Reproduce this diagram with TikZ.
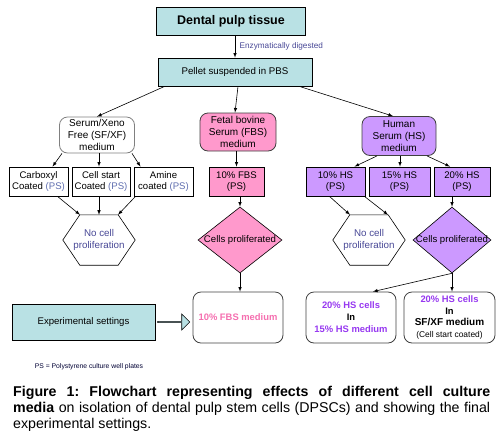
\documentclass[tikz,border=0pt]{standalone}
\usepackage{fontspec}
\setmainfont{Liberation Sans}
\usetikzlibrary{arrows,shapes.geometric,shapes.arrows}

\definecolor{tealc}{RGB}{185,225,228}
\definecolor{pinkc}{RGB}{255,153,204}
\definecolor{purpc}{RGB}{204,153,255}
\definecolor{slatec}{RGB}{72,72,150}
\definecolor{psc}{RGB}{95,110,175}
\definecolor{medpink}{RGB}{245,110,175}
\definecolor{hsc}{RGB}{150,55,240}
\newcommand{\fsz}[2]{\fontsize{#1}{#2}\selectfont}

\tikzset{
  box/.style={draw,line width=0.8pt,align=center,inner sep=0pt},
  tealbox/.style={box,fill=tealc},
  roundbox/.style={box,rounded corners=8pt,draw=black!75},
  smallbox/.style={box,minimum height=29pt,font=\fsz{9.6}{11}},
  hexbox/.style={minimum width=72pt,minimum height=50pt,inner sep=0pt,align=center,
    text=slatec,font=\fsz{9.8}{12.3}},
  dia/.style={draw,line width=0.6pt,diamond,inner sep=0pt,minimum height=66pt},
  arr/.style={-latex,line width=0.6pt},
}

\begin{document}
\begin{tikzpicture}[x=1pt,y=-1pt]
  \useasboundingbox (0,0) rectangle (500,432);

  % top
  \node[tealbox,minimum width=149pt,minimum height=28pt,font=\bfseries\fsz{12.5}{14}] (tissue) at (231,21) {Dental pulp tissue};
  \node[tealbox,minimum width=154pt,minimum height=28pt,font=\fsz{9.7}{11}] (pellet) at (235,72) {Pellet suspended in PBS};
  \draw[arr] (tissue.south -| pellet.north) -- (pellet.north)
    node[midway,right,xshift=1pt,text=slatec,font=\fsz{8.2}{9}] {Enzymatically digested};

  % media
  \node[roundbox,draw=black!50,fill=white,minimum width=75pt,minimum height=36pt,font=\fsz{10}{11.7}] (sfxf) at (97,135) {Serum/Xeno\\Free (SF/XF)\\medium};
  \node[roundbox,fill=pinkc,minimum width=76pt,minimum height=38pt,font=\fsz{10}{11.7}] (fbs) at (238,132) {Fetal bovine\\Serum (FBS)\\medium};
  \node[roundbox,fill=purpc,minimum width=74pt,minimum height=39pt,font=\fsz{10}{11.7}] (hs) at (399,136) {Human\\Serum (HS)\\medium};

  \draw[arr] ([xshift=7pt]pellet.south west) -- (sfxf.north);
  \draw[arr] (pellet.south -| fbs.north) -- (fbs.north -| pellet.south);
  \draw[arr] ([xshift=-13pt]pellet.south east) -- ([xshift=-6pt]hs.north);

  % plates
  \node[smallbox,minimum width=59pt] (carb) at (38.5,181.5) {Carboxyl\\Coated \textcolor{psc}{(PS)}};
  \node[smallbox,minimum width=58pt] (cstart) at (101,181.5) {Cell start\\Coated \textcolor{psc}{(PS)}};
  \node[smallbox,minimum width=59pt] (amine) at (163.5,181.5) {Amine\\coated \textcolor{psc}{(PS)}};
  \node[smallbox,fill=pinkc,minimum width=55pt] (fbs10) at (236.5,181.5) {10\% FBS\\(PS)};
  \node[smallbox,fill=purpc,minimum width=59pt] (hs10) at (335.5,181.5) {10\% HS\\(PS)};
  \node[smallbox,fill=purpc,minimum width=61pt] (hs15) at (399.5,181.5) {15\% HS\\(PS)};
  \node[smallbox,fill=purpc,minimum width=56pt] (hs20) at (462,181.5) {20\% HS\\(PS)};

  \draw[arr] ([xshift=-35pt]sfxf.south) -- ([xshift=14pt]carb.north);
  \draw[arr] ([xshift=2pt]sfxf.south) -- ([xshift=-2pt]cstart.north);
  \draw[arr] ([xshift=35pt]sfxf.south) -- ([xshift=-23pt]amine.north);
  \draw[arr] (fbs.south -| fbs10.north) -- (fbs10.north);
  \draw[arr] ([xshift=-22pt]hs.south) -- ([xshift=19pt]hs10.north);
  \draw[arr] ([xshift=1pt]hs.south) -- ([xshift=0.5pt]hs15.north);
  \draw[arr] ([xshift=28pt]hs.south) -- ([xshift=-12pt]hs20.north);

  % outcomes
  \node[hexbox] (hexA) at (99,240) {No cell\\proliferation};
  \node[hexbox] (hexB) at (369,240) {No cell\\proliferation};
  \foreach \h in {hexA,hexB}
    \draw[line width=0.6pt] (\h.west) -- ([xshift=17pt]\h.north west) -- ([xshift=-17pt]\h.north east)
      -- (\h.east) -- ([xshift=-17pt]\h.south east) -- ([xshift=17pt]\h.south west) -- cycle;
  \node[dia,fill=pinkc,minimum width=84pt] (diaA) at (240,240) {};
  \node[font=\fsz{9.6}{11}] at (diaA) {Cells proliferated};
  \node[dia,fill=purpc,minimum width=78pt] (diaB) at (452,240) {};
  \node[font=\fsz{9.6}{11}] at (diaB) {Cells proliferated};

  \draw[arr] ([xshift=19pt]carb.south) -- ([xshift=-19pt]hexA.north);
  \draw[arr] ([xshift=-2pt]cstart.south) -- (hexA.north);
  \draw[arr] ([xshift=-28pt]amine.south) -- ([xshift=19pt]hexA.north);
  \draw[arr] ([xshift=-6pt]hs10.south) -- ([xshift=-19pt]hexB.north);
  \draw[arr] ([xshift=-35pt]hs15.south) -- ([xshift=19pt]hexB.north);
  \draw[arr] (fbs10.south -| diaA.north) -- (diaA.north);
  \draw[arr] (hs20.south -| diaB.north) -- (diaB.north);

  % final settings
  \node[roundbox,minimum width=90pt,minimum height=51pt,font=\bfseries\fsz{9.4}{12}] (fbsmed) at (238,317.5) {\textcolor{medpink}{10\% FBS medium}};
  \node[roundbox,minimum width=90pt,minimum height=51pt,font=\bfseries\fsz{9.4}{12}] (hsmed) at (351,317.5) {\textcolor{hsc}{20\% HS cells}\\In\\\textcolor{hsc}{15\% HS medium}};
  \node[roundbox,minimum width=91pt,minimum height=51pt,font=\bfseries\fsz{9.4}{11.5}] (sfmed) at (449.5,317.5) {\textcolor{hsc}{20\% HS cells}\\In\\{\fsz{10}{11.5}SF/XF medium}\\{\mdseries\fsz{8.4}{10}(Cell start coated)}};
  \draw[arr] (diaA.south) -- (diaA.south |- fbsmed.north);
  \draw[arr] (diaB.south) -- ([xshift=22pt]hsmed.north);
  \draw[arr] (diaB.south) -- (diaB.south |- sfmed.north);

  \node[tealbox,minimum width=143pt,minimum height=36pt,font=\fsz{9.6}{11}] (expset) at (83.5,322) {Experimental settings};
  \node[single arrow,draw,line width=0.6pt,fill=tealc,minimum height=32pt,minimum width=16pt,
    single arrow head extend=3.5pt,inner sep=0pt,anchor=west] (bigarr) at ([xshift=2pt]expset.east) {};

  % notes
  \node[font=\fsz{6.8}{8},text=black!80!blue] (note) at (89,367) {PS = Polystyrene culture well plates};
  \node[anchor=north west,text width=477pt,align=justify,inner sep=0pt,font=\frenchspacing\fsz{14.2}{16.2}] (caption) at (13,386)
    {\textbf{Figure 1: Flowchart representing effects of different cell culture}\linebreak
     \textbf{media} on isolation of dental pulp stem cells (DPSCs) and showing the final\linebreak
     experimental settings.};
\end{tikzpicture}
\end{document}
